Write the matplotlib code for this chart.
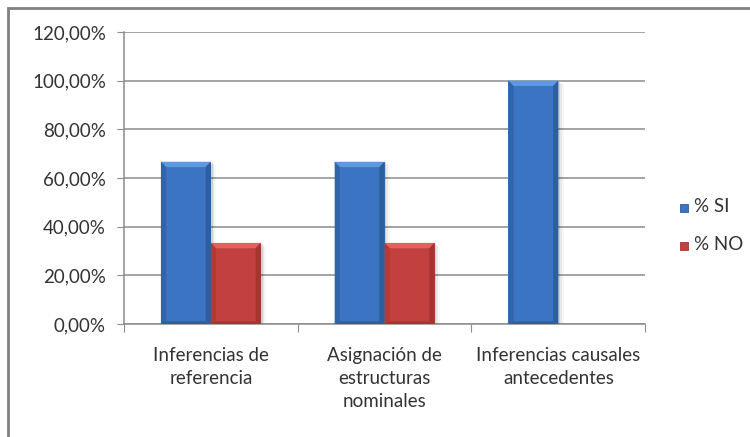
import matplotlib.pyplot as plt
from matplotlib.patches import Polygon, Rectangle
from matplotlib.ticker import FuncFormatter

#%% Data

categorias = ['Inferencias de\nreferencia', 'Asignación de\nestructuras\nnominales',
              'Inferencias causales\nantecedentes']
si = [66.67, 66.67, 100.0]
no = [33.33, 33.33, 0.0]
series = ['% SI', '% NO']

#%% Style

plt.rcParams['font.family'] = ['Lato', 'DejaVu Sans']
azul = ('#3a74c3', '#5e98e2', '#3165aa', '#2d5e9e')   # base, top bevel, left, right
rojo = ('#c2413e', '#e0635f', '#b23a37', '#a53431')
gris = '#8c8c8c'
texto = '#333333'
fs = 13.5

fig = plt.figure(figsize=(7.5, 4.37), dpi=100)
ax = fig.add_axes([0.1653, 0.2586, 0.695, 0.6682])

# outer chart frame (runs off the right and bottom edges)
fig.patches.append(Rectangle((8 / 750, -0.05), 1.2, 1 - 8 / 437 + 0.05, transform=fig.transFigure,
                             fill=False, edgecolor='#808080', linewidth=2))

w = 0.2874
bx = 0.03    # bevel width in x (data units)
by = 2.2     # bevel height in y (data units)


def bar3d(x0, h, c):
    if h <= 0:
        return
    x1 = x0 + w
    # soft shadow
    for k, a in enumerate([0.10, 0.06, 0.03]):
        d = 0.01 * (k + 1)
        ax.add_patch(Rectangle((x0 + d, -0.5 * (k + 1)), w, h, facecolor='black', alpha=a,
                               edgecolor='none', zorder=2))
    ax.add_patch(Rectangle((x0, 0), w, h, facecolor=c[0], edgecolor='none', zorder=3))
    ax.add_patch(Polygon([(x0, h), (x1, h), (x1 - bx, h - by), (x0 + bx, h - by)],
                         facecolor=c[1], edgecolor='none', zorder=4))
    ax.add_patch(Polygon([(x0, 0), (x0, h), (x0 + bx, h - by), (x0 + bx, by * 0.5)],
                         facecolor=c[2], edgecolor='none', zorder=4))
    ax.add_patch(Polygon([(x1, 0), (x1, h), (x1 - bx, h - by), (x1 - bx, by * 0.5)],
                         facecolor=c[3], edgecolor='none', zorder=4))
    ax.add_patch(Polygon([(x0, 0), (x1, 0), (x1 - bx, by * 0.5), (x0 + bx, by * 0.5)],
                         facecolor=c[3], edgecolor='none', zorder=4))


for i in range(len(categorias)):
    bar3d(i - w, si[i], azul)
    bar3d(i, no[i], rojo)

ax.set_xlim(-0.5, 2.5)
ax.set_ylim(0, 120)
ax.set_yticks(range(0, 121, 20))
ax.yaxis.set_major_formatter(FuncFormatter(lambda v, p: f'{v:.2f}'.replace('.', ',') + '%'))
ax.grid(axis='y', color=gris, linewidth=1.1, zorder=0)
ax.set_axisbelow(True)

ax.set_xticks([-0.5, 0.5, 1.5, 2.5])
ax.set_xticklabels([])
for i, t in enumerate(categorias):
    ax.text(i, -9.5, t, ha='center', va='top', fontsize=fs, color=texto, linespacing=1.42)

for s in ['top', 'right']:
    ax.spines[s].set_visible(False)
for s in ['left', 'bottom']:
    ax.spines[s].set_color(gris)
    ax.spines[s].set_linewidth(1.1)
ax.tick_params(axis='y', length=5, color=gris, labelsize=fs, labelcolor=texto, pad=8)
ax.tick_params(axis='x', length=6, color=gris)

# legend
for j, (nombre, c) in enumerate(zip(series, [azul, rojo])):
    yy = 0.527 - j * 0.087
    fig.patches.append(Rectangle((0.906, yy - 0.012), 0.0107, 0.0185, transform=fig.transFigure,
                                 facecolor=c[0], edgecolor=c[3], linewidth=0.6))
    fig.text(0.926, yy, nombre, va='center', ha='left', fontsize=fs, color=texto)

fig.savefig('out.png', dpi=100)
